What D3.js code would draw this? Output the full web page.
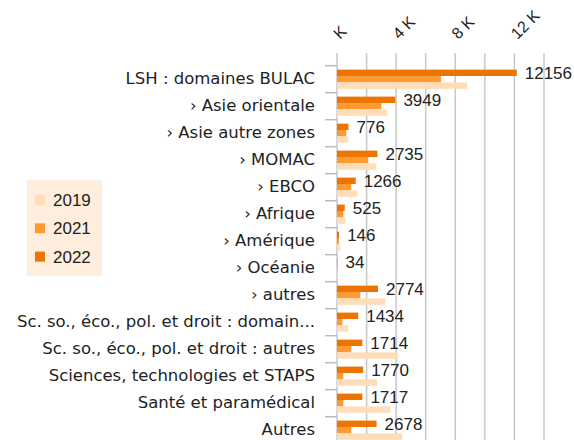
<!DOCTYPE html>
<html>
<head>
<meta charset="utf-8">
<script src="https://cdn.jsdelivr.net/npm/d3@7"></script>
<style>
  body { margin: 0; background: #fff; }
  text { font-family: "Liberation Sans", Arial, sans-serif; }
</style>
</head>
<body>
<script>
let width = 574;
let height = 440;

let categories = [
    "LSH : domaines BULAC",
    "\u203A Asie orientale",
    "\u203A Asie autre zones",
    "\u203A MOMAC",
    "\u203A EBCO",
    "\u203A Afrique",
    "\u203A Amérique",
    "\u203A Océanie",
    "\u203A autres",
    "Sc. so., éco., pol. et droit : domain...",
    "Sc. so., éco., pol. et droit : autres",
    "Sciences, technologies et STAPS",
    "Santé et paramédical",
    "Autres"
];

let years = ["2022", "2021", "2019"];
let legendYears = ["2019", "2021", "2022"];

let values2022 = [12156, 3949, 776, 2735, 1266, 525, 146, 34, 2774, 1434, 1714, 1770, 1717, 2678];
let values2021 = [7030, 2995, 630, 2115, 967, 426, 135, 25, 1575, 358, 967, 426, 426, 967];
let values2019 = [8810, 3400, 765, 2660, 1380, 561, 223, 30, 3265, 764, 4120, 2724, 3600, 4414];

let gridTicks = [0, 2000, 4000, 6000, 8000, 10000, 12000, 14000];
let labelTicks = [0, 4000, 8000, 12000];
let tickLabels = ["K", "4 K", "8 K", "12 K"];

let colors = {"2019": "#FFDDB9", "2021": "#FF9A33", "2022": "#EB7500"};

let seriesByYear = {"2022": values2022, "2021": values2021, "2019": values2019};

let rows = categories.map((c, i) => ({
    category: c,
    values: years.map((y) => ({year: y, value: seriesByYear[y][i]}))
}));

let svg = d3.select("body")
    .append("svg")
    .attr("width", width)
    .attr("height", height);

let x = d3.scaleLinear()
    .domain([0, 14000])
    .range([337, 544]);

let y = d3.scaleBand()
    .domain(categories)
    .range([65.7, 65.7 + 27 * categories.length])
    .paddingInner(0.29)
    .paddingOuter(0.145);

let yInner = d3.scaleBand()
    .domain(years)
    .range([0, y.bandwidth()]);

// gridlines + top tick marks
svg.append("g")
    .selectAll("line")
    .data(gridTicks)
    .enter()
    .append("line")
        .attr("x1", (d) => x(d))
        .attr("x2", (d) => x(d))
        .attr("y1", 53)
        .attr("y2", height)
        .style("stroke", "#c8c8c8")
        .style("stroke-width", 1.5);

// top tick labels, rotated
svg.append("g")
    .selectAll("text")
    .data(labelTicks)
    .enter()
    .append("text")
        .attr("transform", (d) => `translate(${x(d) + 3},40) rotate(-45)`)
        .attr("text-anchor", "start")
        .attr("font-size", 16)
        .style("fill", "#222")
        .text((d, i) => tickLabels[i]);

// category axis on the left
let yAxis = d3.axisLeft(y).tickSize(0).tickPadding(22);
let yg = svg.append("g")
    .attr("transform", `translate(${x(0)},0)`)
    .call(yAxis);
yg.select(".domain").remove();
yg.selectAll("text")
    .attr("font-size", 16.5)
    .style("font-family", "DejaVu Sans, sans-serif")
    .style("fill", "#222");

// band separator ticks
svg.append("g")
    .selectAll("line")
    .data(categories)
    .enter()
    .append("line")
        .attr("x1", x(0) - 12)
        .attr("x2", x(0))
        .attr("y1", (d) => y(d) - y.step() * y.paddingInner() / 2)
        .attr("y2", (d) => y(d) - y.step() * y.paddingInner() / 2)
        .style("stroke", "#bbb")
        .style("stroke-width", 1.5);

// bars
let groups = svg.append("g")
    .selectAll("g")
    .data(rows)
    .enter()
    .append("g")
        .attr("transform", (d) => `translate(0,${y(d.category)})`);

groups.selectAll("rect")
    .data((d) => d.values)
    .enter()
    .append("rect")
        .attr("x", x(0))
        .attr("y", (d) => yInner(d.year))
        .attr("width", (d) => x(d.value) - x(0))
        .attr("height", yInner.bandwidth())
        .style("fill", (d) => colors[d.year]);

// value labels for 2022
groups.append("text")
    .attr("x", (d) => x(d.values[0].value) + 8)
    .attr("y", yInner("2022") + yInner.bandwidth() / 2)
    .attr("dy", "0.36em")
    .attr("font-size", 17)
    .style("fill", "#222")
    .text((d) => d.values[0].value);

// legend
let legend = svg.append("g");
legend.append("rect")
    .attr("x", 27)
    .attr("y", 180)
    .attr("width", 75)
    .attr("height", 96)
    .style("fill", "#FFEDDD");

let legendItems = legend.selectAll("g")
    .data(legendYears)
    .enter()
    .append("g")
        .attr("transform", (d, i) => `translate(35,${195 + i * 28.3})`);

legendItems.append("rect")
    .attr("width", 10)
    .attr("height", 10)
    .style("fill", (d) => colors[d]);

legendItems.append("text")
    .attr("x", 18)
    .attr("y", 5)
    .attr("dy", "0.36em")
    .attr("font-size", 17)
    .style("fill", "#222")
    .text((d) => d);
</script>
</body>
</html>
